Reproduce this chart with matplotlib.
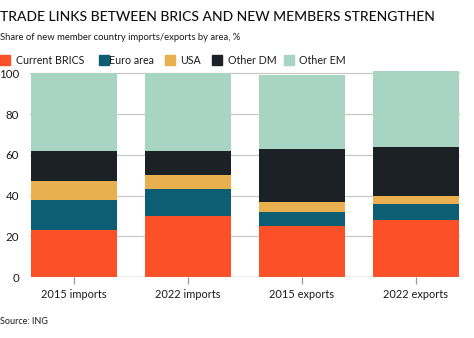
import matplotlib
matplotlib.use("Agg")
import matplotlib.pyplot as plt
from matplotlib.patches import Rectangle
import numpy as np

categories = ["2015 imports", "2022 imports", "2015 exports", "2022 exports"]
series_names = ["Current BRICS", "Euro area", "USA", "Other DM", "Other EM"]
current_brics = [23, 30, 25, 28]
euro_area = [15, 13, 7, 8]
usa = [9, 7, 5, 4]
other_dm = [15, 12, 26, 24]
other_em = [38, 38, 36, 37]
y_ticks = [0, 20, 40, 60, 80, 100]

colors = ["#fc5028", "#0d5e73", "#e8b04f", "#1b2124", "#a8d5c3"]
font = "Lato"
text_color = "#1a1a1a"

fig = plt.figure(figsize=(4.74, 3.38), dpi=100)
W, H = 474, 338

ax = fig.add_axes([30 / W, 1 - 277 / H, 430 / W, (277 - 71.3) / H])

x = np.arange(len(categories))
bottom = np.zeros(len(categories))
for name, vals, c in zip(series_names,
                         [current_brics, euro_area, usa, other_dm, other_em],
                         colors):
    ax.bar(x, vals, width=0.755, bottom=bottom, color=c, zorder=2,
           linewidth=0, label=name)
    bottom += np.array(vals)

ax.set_xlim(-0.386, 3.386)
ax.set_ylim(0, 101)
ax.set_yticks(y_ticks)
ax.set_xticks(x)
ax.set_xticklabels(categories)
ax.yaxis.grid(True, color="#c8c8c8", linewidth=0.9, zorder=0)
ax.set_axisbelow(True)
for s in ax.spines.values():
    s.set_visible(False)
ax.axhline(0, color="#999999", linewidth=0.9, zorder=3)
ax.tick_params(axis="y", length=0, pad=8, labelsize=8.3, labelcolor=text_color)
ax.tick_params(axis="x", length=5, width=0.9, color="#999999", pad=4,
               labelsize=7.9, labelcolor=text_color)
for lbl in ax.get_xticklabels() + ax.get_yticklabels():
    lbl.set_fontfamily(font)

fig.text(0, 1 - 17 / H, "TRADE LINKS BETWEEN BRICS AND NEW MEMBERS STRENGTHEN",
         fontsize=10.0, fontweight="medium", family=font, color="#111111",
         va="center", ha="left")
fig.text(0, 1 - 38 / H, "Share of new member country imports/exports by area, %",
         fontsize=6.8, family=font, color=text_color, va="center", ha="left")

# legend row
sq_x = [0, 99, 165, 212, 284]
txt_x = [16, 109, 180, 228, 299]
for name, c, sx, tx in zip(series_names, colors, sq_x, txt_x):
    fig.patches.append(Rectangle((sx / W, 1 - 65 / H), 10 / W, 10 / H,
                                 transform=fig.transFigure, color=c))
    fig.text(tx / W, 1 - 60.5 / H, name, fontsize=7.7, family=font,
             color=text_color, va="center", ha="left")

fig.text(0, 1 - 322 / H, "Source: ING", fontsize=6.5, family=font,
         color=text_color, va="center", ha="left")

fig.savefig("out.png", dpi=100, facecolor="white")
